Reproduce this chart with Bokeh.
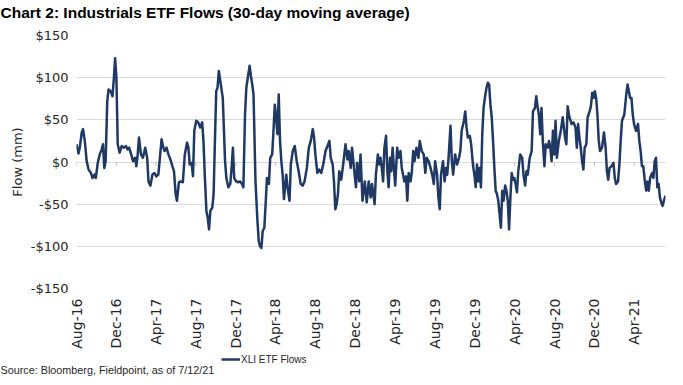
import numpy as np
import pandas as pd
from bokeh.plotting import figure
from bokeh.layouts import column
from bokeh.models import Range1d, FixedTicker, Legend, LegendItem, Label
from bokeh.embed import file_html
from bokeh.resources import INLINE

# ---------------- data ----------------
start_date = "2016-08-01"
day_offsets = [
    0, 6, 10, 16, 20, 26, 31, 37, 44, 49, 55, 59, 65, 71, 77, 81, 85, 89, 94, 98,
    104, 110, 114, 118, 122, 126, 132, 138, 145, 151, 156, 161, 167, 173, 179, 183, 187, 191, 197, 203,
    210, 216, 220, 226, 232, 238, 244, 250, 254, 260, 264, 269, 275, 281, 287,
    293, 298, 303, 307, 313, 319, 325, 331, 338, 342, 346, 352, 356, 360, 366, 372, 378, 384, 388, 392,
    397, 401, 405, 409, 415, 419, 423, 427, 431, 435, 441, 447, 454, 458, 464, 470, 474, 478, 482, 488,
    494, 500, 506, 510, 515, 519, 525, 529, 533, 537, 541, 547, 553, 557, 561, 565, 569, 574, 578, 582,
    588, 592,
    598, 602, 606, 610, 614, 618, 622, 626, 630, 634, 641, 645, 651, 655, 661, 667, 673, 679, 685, 691,
    697, 704, 710, 716, 722, 726, 730, 736, 742, 748, 754, 761, 767, 773, 777, 783, 787, 791, 795, 799,
    803, 809, 815, 822, 828, 832, 838, 842, 848, 854, 858, 864, 868, 874, 881, 887, 893, 899,
    903, 907, 911, 915, 921, 925, 929, 933, 937, 941, 946, 950, 954, 958, 962, 966, 970, 974, 980, 984,
    990, 994, 998, 1002, 1007, 1011, 1015, 1021, 1025, 1029, 1033, 1039, 1045, 1049, 1055, 1061, 1066, 1070, 1076, 1082,
    1088, 1092, 1096, 1102, 1106, 1110, 1114, 1120, 1125, 1129, 1133, 1137, 1143, 1147, 1151, 1157, 1163, 1169, 1173, 1177,
    1184, 1188, 1192, 1196, 1202, 1206,
    1212, 1216, 1220, 1224, 1228, 1232, 1236, 1240, 1244, 1248, 1253, 1257, 1261, 1265, 1269, 1273, 1277, 1281, 1285, 1289,
    1293, 1297, 1301, 1305, 1310, 1314, 1318, 1322, 1326, 1330, 1334, 1338, 1342, 1346, 1350, 1356, 1362, 1366, 1371, 1375,
    1379, 1385, 1391, 1395, 1401, 1405, 1409, 1413, 1417, 1421, 1425, 1430, 1434, 1440, 1444, 1448, 1452, 1456, 1460, 1464,
    1468, 1474, 1480, 1486, 1493, 1497, 1501, 1505,
    1507, 1513, 1519, 1525, 1529, 1533, 1537, 1541, 1545, 1549, 1553, 1558, 1562, 1568, 1572, 1576, 1580, 1584, 1588, 1592,
    1596, 1600, 1606, 1612, 1617, 1621, 1625, 1629, 1635, 1641, 1645, 1649, 1655, 1659, 1663, 1667, 1674, 1680, 1684, 1688,
    1692, 1696, 1700, 1704, 1710, 1716, 1720, 1724, 1728, 1732, 1737, 1741, 1745, 1749, 1753, 1759, 1763, 1767, 1771, 1775,
    1779, 1783, 1787, 1791, 1795, 1800,
]
xli_flows = [
    21, 10, 17, 35, 39, 23, 1, -9, -13, -19, -15, -19, -1, 9, 15, 21, -7, 1, 72, 86,
    84, 78, 98, 123, 100, 21, 11, 19, 17, 19, 15, 17, 9, 1, 5, -5, 9, 29, 9, 5,
    17, 5, -23, -28, -15, -13, -17, -15, 1, 27, 19, 13, 17, 9, 3,
    -5, -11, -38, -46, -24, -23, -24, 9, 23, 17, -3, -1, -17, 37, 49, 47, 41, 47, 25, -15,
    -58, -66, -80, -58, -54, -38, 25, 84, 88, 108, 92, 76, 1, -19, -30, -26, -7, 17, -19, -23,
    -24, -23, -26, -30, 56, 88, 104, 114, 102, 92, 80, -23, -70, -94, -100, -102, -82, -78, -50, -19,
    -26, 5,
    9, 37, 68, 53, 33, 80, 25, 1, -15, -44, -15, -30, -46, -3, 13, 19, 1, -11, -26, -28,
    -23, -7, 17, 25, 39, 29, 9, -13, -9, -13, -3, 13, 19, 25, 5, -3, -24, -56, -50, -38,
    -11, -21, -3, 21, 3, 13, -7, 17, -7, -30, -1, -23, 9, -46, -23, -48, -23, -42,
    -26, -38, -50, -15, 9, -3, 5, -7, -23, 17, 31, -11, -30, 5, -11, 17, -7, -28, 17, 5,
    13, -7, -15, -23, -17, -46, -13, -23, -11, 13, 1, 17, 5, 25, 13, 9, -13, 5, 1, -7,
    -17, -26, 1, -15, -42, -56, -15, 1, -23, -7, -15, 5, 43, 1, -15, 9, -3, 5, 13, 37,
    49, 60, 41, 29, 31, 21,
    -5, -15, -30, -3, -23, -7, -30, 33, 64, 76, 88, 94, 92, 68, 53, 25, -7, -34, -38, -46,
    -62, -78, -34, -46, -28, -34, -46, -80, -42, -13, -21, -19, -26, -36, -11, 9, 5, -15, -28, -11,
    -15, 5, 13, 60, 64, 78, 66, 56, 33, 64, 25, -5, 21, 17, 25, 17, 1, 37, 9, 49,
    5, 25, 37, 53, 29, 21, 66, 56,
    53, 45, 47, 41, 17, 45, 29, 17, 1, -9, 17, 21, 53, 60, 66, 82, 76, 84, 76, 56,
    25, 13, 17, 35, 17, -11, -21, -7, -5, -1, -19, -26, -23, -3, 25, 49, 56, 80, 92, 84,
    76, 76, 56, 45, 37, 45, 25, 13, -5, -5, -23, -34, -23, -34, -19, -13, -19, 1, 5, -30,
    -26, -42, -48, -52, -46, -40,
]
x_tick_labels = ["Aug-16", "Dec-16", "Apr-17", "Aug-17", "Dec-17", "Apr-18", "Aug-18", "Dec-18",
                 "Apr-19", "Aug-19", "Dec-19", "Apr-20", "Aug-20", "Dec-20", "Apr-21"]
y_ticks = [-150, -100, -50, 0, 50, 100, 150]
y_tick_labels = ["-$150", "-$100", "-$50", "$0", "$50", "$100", "$150"]
series_name = "XLI ETF Flows"
title_text = "Chart 2: Industrials ETF Flows (30-day moving average)"
source_text = "Source: Bloomberg, Fieldpoint, as of 7/12/21"
y_axis_title = "Flow (mm)"

# ---------------- styling ----------------
LINE = "#1F3864"
GRID = "#D9D9D9"
TXT = "#262626"
FONT = "DejaVu Sans"
SMALL_FONT = "Liberation Sans"
W = 675
TOP_H, MAIN_H, BOT_H = 24, 329, 24


def strip(fig):
    fig.outline_line_color = None
    fig.grid.visible = False
    fig.background_fill_color = "white"
    fig.border_fill_color = "white"
    fig.frame_align = False
    return fig


# ---------------- title strip ----------------
t = strip(figure(width=W, height=TOP_H, x_range=Range1d(0, W), y_range=Range1d(0, TOP_H),
                 x_axis_location=None, y_axis_location=None, min_border=0,
                 output_backend="svg", toolbar_location=None))
t.add_layout(Label(x=0, y=12, text=title_text, text_font="Liberation Sans",
                   text_font_style="bold", text_font_size="15.5px",
                   text_baseline="alphabetic", text_color="black"))

# ---------------- main chart ----------------
start = pd.Timestamp(start_date)
dates = start + pd.to_timedelta(day_offsets, unit="D")
tick_dates = pd.to_datetime(x_tick_labels, format="%b-%y")
tick_ms = [int(tt.value // 10**6) for tt in tick_dates]

p = figure(width=W, height=MAIN_H, x_axis_type="datetime",
           x_range=Range1d(start, dates[-1]), y_range=Range1d(-150, 150),
           output_backend="svg", toolbar_location=None,
           min_border_left=76, min_border_right=10, min_border_top=11, min_border_bottom=65)
p.outline_line_color = None
p.background_fill_color = "white"
p.border_fill_color = "white"
p.frame_align = False

p.yaxis.ticker = FixedTicker(ticks=y_ticks)
p.yaxis.major_label_overrides = {v: l for v, l in zip(y_ticks, y_tick_labels)}
p.yaxis.axis_line_color = None
p.yaxis.major_tick_line_color = None
p.yaxis.minor_tick_line_color = None
p.yaxis.major_tick_out = 0
p.yaxis.major_tick_in = 0
p.yaxis.major_label_standoff = 8
p.yaxis.major_label_text_font = FONT
p.yaxis.major_label_text_font_size = "13px"
p.yaxis.major_label_text_color = TXT
p.yaxis.axis_label = y_axis_title
p.yaxis.axis_label_text_font = FONT
p.yaxis.axis_label_text_font_size = "13px"
p.yaxis.axis_label_text_font_style = "normal"
p.yaxis.axis_label_text_color = TXT
p.yaxis.axis_label_standoff = 3

p.xaxis.ticker = FixedTicker(ticks=tick_ms)
p.xaxis.major_label_overrides = {v: l for v, l in zip(tick_ms, x_tick_labels)}
p.xaxis.major_label_orientation = np.pi / 2
p.xaxis.axis_line_color = None
p.xaxis.major_tick_line_color = None
p.xaxis.minor_tick_line_color = None
p.xaxis.major_tick_out = 0
p.xaxis.major_tick_in = 0
p.xaxis.major_label_standoff = 10
p.xaxis.major_label_text_font = FONT
p.xaxis.major_label_text_font_size = "14px"
p.xaxis.major_label_text_color = TXT

p.xgrid.visible = False
p.ygrid.grid_line_color = GRID
p.ygrid.grid_line_width = 1

# small tick marks hanging from the zero line
p.segment(x0=tick_dates, y0=[0] * len(tick_dates), x1=tick_dates, y1=[-5] * len(tick_dates),
          line_color="#BFBFBF", line_width=1)

r = p.line(dates, xli_flows, line_color=LINE, line_width=2.5, line_join="round")

# ---------------- legend + source strip ----------------
q = strip(figure(width=W, height=BOT_H, x_range=Range1d(0, W), y_range=Range1d(0, BOT_H),
                 x_axis_location=None, y_axis_location=None, min_border=0,
                 output_backend="svg", toolbar_location=None))
# same series drawn here only as the legend key (its dates lie far outside this strip's range)
key = q.line(x=[tt.value // 10**6 for tt in dates], y=xli_flows, line_color=LINE, line_width=2.5)
legend = Legend(items=[LegendItem(label=series_name, renderers=[key])],
                location=(221, 12), orientation="horizontal",
                glyph_width=19, glyph_height=12, label_standoff=1, padding=0, margin=0,
                spacing=0, label_height=12, border_line_color=None, background_fill_alpha=0,
                label_text_font=SMALL_FONT, label_text_font_size="10px", label_text_color=TXT)
q.add_layout(legend, "center")
q.add_layout(Label(x=0, y=8, text=source_text, text_font=SMALL_FONT, text_font_size="10.8px",
                   text_baseline="middle", text_color=TXT))

layout = column(t, p, q, spacing=0)
open("out.html", "w").write(file_html(layout, INLINE))
